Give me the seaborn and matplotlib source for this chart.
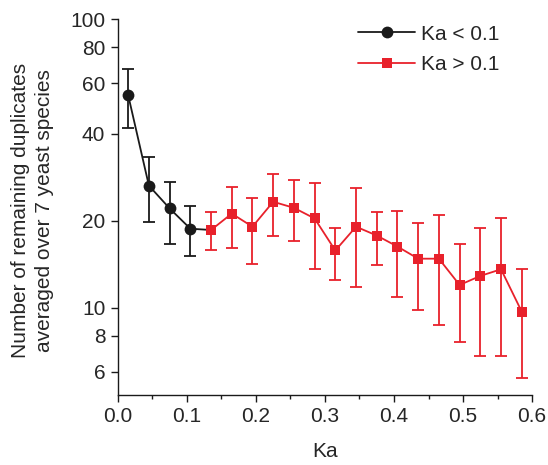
import numpy as np
import pandas as pd
import matplotlib
matplotlib.use("Agg")
import matplotlib.pyplot as plt
import seaborn as sns
from matplotlib.lines import Line2D
from matplotlib.ticker import FixedLocator, NullLocator, MultipleLocator

# Ka < 0.1 bins
ka_lo = [0.015, 0.045, 0.075, 0.105]
mean_lo = [54.5, 26.5, 22.1, 18.8]
upper_lo = [67.0, 33.2, 27.2, 22.6]
lower_lo = [41.8, 19.9, 16.6, 15.1]

# Ka > 0.1 bins
ka_hi = [0.135, 0.165, 0.195, 0.225, 0.255, 0.285, 0.315, 0.345,
         0.375, 0.405, 0.435, 0.465, 0.495, 0.525, 0.555, 0.585]
mean_hi = [18.6, 21.2, 19.1, 23.3, 22.2, 20.4, 15.8, 19.1,
           17.8, 16.3, 14.8, 14.8, 12.0, 12.9, 13.6, 9.7]
upper_hi = [21.5, 26.3, 24.1, 29.0, 27.8, 27.0, 18.9, 26.1,
            21.5, 21.7, 19.7, 20.9, 16.6, 18.9, 20.5, 13.6]
lower_hi = [15.8, 16.1, 14.2, 17.8, 17.1, 13.6, 12.5, 11.8,
            14.1, 10.9, 9.8, 8.7, 7.6, 6.8, 6.8, 5.7]

yticks = [6, 8, 10, 20, 40, 60, 80, 100]

BLACK = "#1a1a1a"
RED = "#e8212b"
FS = 15

sns.set_style("ticks")
plt.rcParams["font.family"] = ["Liberation Sans", "DejaVu Sans"]
plt.rcParams["font.size"] = FS

fig = plt.figure(figsize=(5.48, 4.65), dpi=100)
ax = fig.add_axes([0.215, 0.151, 0.756, 0.808])
ax.set_yscale("log")

lo = pd.DataFrame({"Ka": ka_lo, "mean": mean_lo, "up": upper_lo, "low": lower_lo})
hi = pd.DataFrame({"Ka": ka_hi, "mean": mean_hi, "up": upper_hi, "low": lower_hi})

# error bars
ax.errorbar(lo["Ka"], lo["mean"], yerr=[lo["mean"] - lo["low"], lo["up"] - lo["mean"]],
            fmt="none", ecolor=BLACK, elinewidth=1.3, capsize=4, capthick=1.3, zorder=2)
ax.errorbar(hi["Ka"], hi["mean"], yerr=[hi["mean"] - hi["low"], hi["up"] - hi["mean"]],
            fmt="none", ecolor=RED, elinewidth=1.3, capsize=4, capthick=1.3, zorder=2)

# black line continues to the first red point
conn = pd.concat([lo[["Ka", "mean"]], hi[["Ka", "mean"]].iloc[:1]])
sns.lineplot(data=conn, x="Ka", y="mean", color=BLACK, lw=1.3, ax=ax, zorder=3)
sns.lineplot(data=hi, x="Ka", y="mean", color=RED, lw=1.3, ax=ax, zorder=3,
             marker="s", markersize=7, markeredgewidth=0)
ax.plot(lo["Ka"], lo["mean"], "o", color=BLACK, markersize=8.5, markeredgewidth=0, zorder=4)

ax.set_xlim(0, 0.6)
ax.set_ylim(5, 100)
ax.xaxis.set_major_locator(MultipleLocator(0.1))
ax.xaxis.set_minor_locator(MultipleLocator(0.05))
ax.xaxis.set_major_formatter(plt.FuncFormatter(lambda v, p: f"{v:.1f}"))
ax.yaxis.set_major_locator(FixedLocator(yticks))
ax.yaxis.set_minor_locator(NullLocator())
ax.set_yticklabels([str(t) for t in yticks])

ax.tick_params(axis="both", which="major", length=5, width=1, labelsize=FS, pad=4, color=BLACK)
ax.tick_params(axis="x", which="minor", length=3, width=1, color=BLACK)
for s in ["left", "bottom"]:
    ax.spines[s].set_linewidth(1)
    ax.spines[s].set_color(BLACK)
sns.despine(ax=ax)

ax.set_xlabel("Ka", fontsize=FS)
ax.set_ylabel("Number of remaining duplicates\naveraged over 7 yeast species",
              fontsize=FS, linespacing=1.3)
ax.xaxis.set_label_coords(0.5, -0.125)
ax.yaxis.set_label_coords(-0.155, 0.49)

handles = [
    Line2D([], [], color=BLACK, lw=1.3, marker="o", markersize=8.5, markeredgewidth=0),
    Line2D([], [], color=RED, lw=1.3, marker="s", markersize=7, markeredgewidth=0),
]
ax.legend(handles, ["Ka < 0.1", "Ka > 0.1"], loc="upper left", frameon=False,
          fontsize=FS, handlelength=2.75, handletextpad=0.25, labelspacing=0.55,
          borderpad=0, borderaxespad=0, bbox_to_anchor=(0.58, 0.985))

fig.savefig("out.png", dpi=100)
